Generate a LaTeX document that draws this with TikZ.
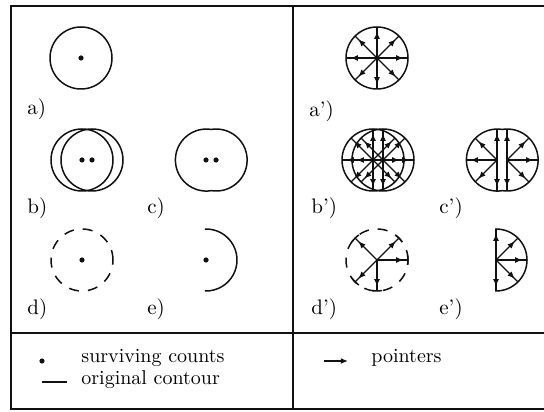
\documentclass[tikz,border=0pt]{standalone}
\usepackage{xcolor}
\definecolor{cInk}{HTML}{111111}
\usepackage{tikz}
\usetikzlibrary{arrows.meta,decorations.markings}
\tikzset{
  contour/.style={draw=cInk,line width=0.75pt,circle,minimum size=31pt,
    inner sep=0pt,outer sep=0pt},
  contour-hidden/.style={circle,minimum size=31pt,inner sep=0pt,outer sep=0pt},
  contour-dashed/.style={contour,dash pattern=on 5pt off 4.5pt},
  contour-line/.style={draw=cInk,line width=0.75pt},
  count-dot/.style={circle,fill=cInk,inner sep=0pt,minimum size=2.6pt},
  case-label/.style={anchor=base west,inner sep=0pt,
    font=\fontsize{10.5}{12}\selectfont},
  legend-text/.style={anchor=base west,inner sep=0pt,
    font=\fontsize{10}{12}\selectfont},
  frame-line/.style={draw=cInk,line width=0.9pt},
  pointer/.style={draw=cInk,line width=0.6pt,postaction={decorate},
    decoration={markings,mark=at position 0.85 with
      {\arrow{Latex[length=3.6pt,width=3pt]}}}},
}

\begin{document}
\begin{tikzpicture}[x=0.5pt,y=0.5pt]
  \useasboundingbox (0,0) rectangle (544,411);
  % frame
  \draw[frame-line] (544,405) -- (11,405) -- (11,2) -- (544,2);
  \draw[frame-line] (293,405) -- (293,2);
  \draw[frame-line] (11,78) -- (544,78);

  % left: surviving counts and contours
  \node[contour] (a) at (81,353) {};
  \node[count-dot] (a-dot) at (a.center) {};
  \node[contour] (b1) at (82,251) {};
  \node[contour] (b2) at (92,251) {};
  \node[count-dot] (b1-dot) at (b1.center) {};
  \node[count-dot] (b2-dot) at (b2.center) {};
  \node[contour-hidden] (c1) at (206,251) {};
  \node[contour-hidden] (c2) at (216,251) {};
  \draw[contour-line] (c1.80.72) arc[start angle=80.72,end angle=279.28,radius=15.5pt]
    -- (c2.-99.28) arc[start angle=-99.28,end angle=99.28,radius=15.5pt] -- cycle;
  \node[count-dot] (c1-dot) at (c1.center) {};
  \node[count-dot] (c2-dot) at (c2.center) {};
  \node[contour-dashed] (d) at (82,151) {};
  \node[count-dot] (d-dot) at (d.center) {};
  \node[contour-hidden] (e) at (206,151) {};
  \draw[contour-line] (e.92) arc[start angle=92,end angle=-92,radius=15.5pt];
  \node[count-dot] (e-dot) at (e.center) {};

  \node[case-label] (a-lab) at (27,296) {a)};
  \node[case-label] (b-lab) at (27,197) {b)};
  \node[case-label] (c-lab) at (147,197) {c)};
  \node[case-label] (d-lab) at (27,96) {d)};
  \node[case-label] (e-lab) at (147,96) {e)};

  % right: pointers
  \node[contour] (ap) at (377,353) {};
  \foreach \ang in {0,45,...,315}
    \draw[pointer] (ap.center) -- (ap.\ang);
  \node[contour] (bp1) at (373,251) {};
  \node[contour] (bp2) at (383,251) {};
  \foreach \ang in {0,45,...,315} {
    \draw[pointer] (bp1.center) -- (bp1.\ang);
    \draw[pointer] (bp2.center) -- (bp2.\ang);
  }
  \node[contour-hidden] (cp1) at (497,251) {};
  \node[contour-hidden] (cp2) at (507,251) {};
  \draw[contour-line] (cp1.80.72) arc[start angle=80.72,end angle=279.28,radius=15.5pt]
    -- (cp2.-99.28) arc[start angle=-99.28,end angle=99.28,radius=15.5pt] -- cycle;
  \foreach \ang in {90,135,180,225,270}
    \draw[pointer] (cp1.center) -- (cp1.\ang);
  \foreach \ang in {-90,-45,0,45,90}
    \draw[pointer] (cp2.center) -- (cp2.\ang);
  \node[contour-dashed] (dp) at (377,151) {};
  \foreach \ang in {0,45,135,225,270} {
    \draw[pointer] (dp.center) -- (dp.\ang);
    \draw[contour-line] ([shift={(\ang-9:15.5pt)}]dp.center)
      arc[start angle=\ang-9,delta angle=18,radius=15.5pt];
  }
  \node[contour-hidden] (ep) at (496,151) {};
  \draw[contour-line] (ep.90) arc[start angle=90,end angle=-90,radius=15.5pt] -- cycle;
  \foreach \ang in {-90,-45,0,45,90}
    \draw[pointer] (ep.center) -- (ep.\ang);

  \node[case-label] (ap-lab) at (309,294) {a')};
  \node[case-label] (bp-lab) at (311,197) {b')};
  \node[case-label] (cp-lab) at (439,197) {c')};
  \node[case-label] (dp-lab) at (311,96) {d')};
  \node[case-label] (ep-lab) at (439,96) {e')};

  % legend
  \node[count-dot] (leg-dot) at (42,50) {};
  \node[legend-text] (leg-count) at (81,48) {surviving counts};
  \coordinate (leg-line-a) at (42,29);
  \coordinate (leg-line-b) at (67,29);
  \draw[contour-line] (leg-line-a) -- (leg-line-b);
  \node[legend-text] (leg-contour) at (81,27) {original contour};
  \coordinate (leg-ptr-a) at (324,50);
  \coordinate (leg-ptr-b) at (348,50);
  \draw[contour-line,-{Latex[length=3.6pt,width=3pt]}] (leg-ptr-a) -- (leg-ptr-b);
  \node[legend-text] (leg-ptr) at (371,48) {pointers};
\end{tikzpicture}
\end{document}
